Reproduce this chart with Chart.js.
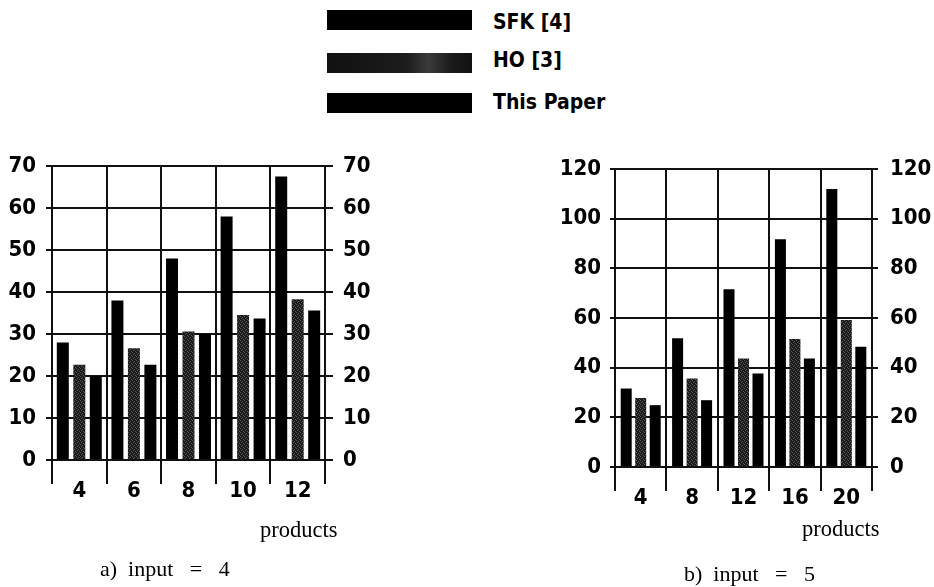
<!DOCTYPE html>
<html>
<head>
<meta charset="utf-8">
<script src="https://cdn.jsdelivr.net/npm/chart.js@4.4.1/dist/chart.umd.min.js"></script>
<style>
  html, body { margin: 0; padding: 0; background: #fff; }
  body { width: 934px; height: 587px; position: relative; overflow: hidden; }
  canvas { position: absolute; left: 0; top: 0; }
  .txt { position: absolute; white-space: pre; color: #000; }
  .serif { font-family: 'Liberation Serif', 'DejaVu Serif', serif; line-height: 22px; }
  .leg { font-family: 'DejaVu Sans Condensed', 'DejaVu Sans', sans-serif; font-stretch: condensed; font-weight: bold; font-size: 21px; line-height: 22px; }
  .box { position: absolute; width: 145px; height: 20px; background: #000; }
</style>
</head>
<body>
<div class="box" id="legSFK" style="left:327px; top:10px;"></div>
<div class="box" id="legHO" style="left:327px; top:53px;"></div>
<div class="box" id="legTP" style="left:327px; top:93px;"></div>
<div class="txt leg" style="left:493px; top:11px;">SFK [4]</div>
<div class="txt leg" style="left:493px; top:49px;">HO [3]</div>
<div class="txt leg" style="left:493px; top:91px;">This Paper</div>

<canvas id="left" width="934" height="587"></canvas>
<canvas id="right" width="934" height="587"></canvas>

<div class="txt serif" style="left:260px; top:519px; font-size:22.5px;">products</div>
<div class="txt serif" style="left:802px; top:518px; font-size:22.5px;">products</div>
<div class="txt serif" style="left:100px; top:558px; font-size:22px;">a)  input   =   4</div>
<div class="txt serif" style="left:684px; top:563px; font-size:22px;">b)  input   =   5</div>

<script>
// ---- data ----
const seriesNames = ['SFK [4]', 'HO [3]', 'This Paper'];

const leftCategories = ['4', '6', '8', '10', '12'];
const leftSFK = [28, 38, 48, 58, 67.5];
const leftHO  = [22.7, 26.6, 30.6, 34.5, 38.3];
const leftTP  = [20, 22.7, 30, 33.7, 35.6];
const leftMax = 70;
const leftStep = 10;

const rightCategories = ['4', '8', '12', '16', '20'];
const rightSFK = [31.6, 51.8, 71.6, 91.7, 111.9];
const rightHO  = [27.8, 35.6, 43.7, 51.5, 59.2];
const rightTP  = [24.9, 26.9, 37.7, 43.7, 48.4];
const rightMax = 120;
const rightStep = 20;

// ---- styles ----
function makeHOPattern() {
  const c = document.createElement('canvas');
  c.width = 4; c.height = 4;
  const g = c.getContext('2d');
  g.fillStyle = '#1a1a1a';
  g.fillRect(0, 0, 4, 4);
  g.fillStyle = '#5a5a5a';
  [[0,0],[2,1],[1,2],[3,3]].forEach(p => g.fillRect(p[0], p[1], 1, 1));
  return g.createPattern(c, 'repeat');
}
const hoPattern = makeHOPattern();
document.getElementById('legHO').style.background =
  'linear-gradient(90deg,#111 0%,#1c1c1c 55%,#3a3a3a 70%,#1c1c1c 85%,#111 100%)';

const tickFont = { family: "'DejaVu Sans Condensed', 'DejaVu Sans', sans-serif", weight: 'bold', size: 22 };
const lineColor = '#111';

function buildChart(id, cats, sfk, ho, tp, maxV, step, cfg) {
  const fixW = (w) => (scale) => { scale.width = w; };
  return new Chart(document.getElementById(id), {
    type: 'bar',
    data: {
      labels: cats,
      datasets: [
        { label: seriesNames[0], data: sfk, backgroundColor: '#000' },
        { label: seriesNames[1], data: ho, backgroundColor: hoPattern },
        { label: seriesNames[2], data: tp, backgroundColor: '#000' }
      ]
    },
    options: {
      responsive: false,
      animation: false,
      devicePixelRatio: 1,
      categoryPercentage: cfg.catPct,
      barPercentage: cfg.barPct,
      layout: { padding: cfg.padding },
      plugins: { legend: { display: false }, tooltip: { enabled: false }, title: { display: false } },
      scales: {
        x: {
          grid: { offset: true, color: lineColor, lineWidth: 2, tickLength: cfg.xTick, drawOnChartArea: true },
          border: { color: lineColor, width: 2 },
          ticks: { color: '#000', font: tickFont, padding: cfg.xPad, maxRotation: 0 },
          afterFit: (s) => { s.height = 40; }
        },
        y: {
          position: 'left',
          min: 0, max: maxV,
          grid: { color: lineColor, lineWidth: 2, tickLength: cfg.yTickL },
          border: { color: lineColor, width: 2 },
          ticks: { stepSize: step, color: '#000', font: tickFont, padding: cfg.yPadL },
          afterFit: fixW(cfg.wL)
        },
        y2: {
          position: 'right',
          min: 0, max: maxV,
          grid: { color: lineColor, lineWidth: 2, tickLength: cfg.yTickR, drawOnChartArea: false },
          border: { color: lineColor, width: 2 },
          ticks: { stepSize: step, color: '#000', font: tickFont, padding: cfg.yPadR },
          afterFit: fixW(cfg.wR)
        }
      }
    }
  });
}

buildChart('left', leftCategories, leftSFK, leftHO, leftTP, leftMax, leftStep, {
  catPct: 0.906, barPct: 0.727,
  padding: { left: 0, right: 934 - 325 - 70, top: 166, bottom: 587 - 460 - 40 },
  wL: 52, wR: 70, xTick: 24, xPad: -6, yTickL: 6, yPadL: 10, yTickR: 8, yPadR: 10
});

buildChart('right', rightCategories, rightSFK, rightHO, rightTP, rightMax, rightStep, {
  catPct: 0.846, barPct: 0.76,
  padding: { left: 615 - 70, right: 0, top: 169, bottom: 587 - 467 - 40 },
  wL: 70, wR: 934 - 872, xTick: 24, xPad: -6, yTickL: 5, yPadL: 9, yTickR: 6, yPadR: 12
});
</script>
</body>
</html>
